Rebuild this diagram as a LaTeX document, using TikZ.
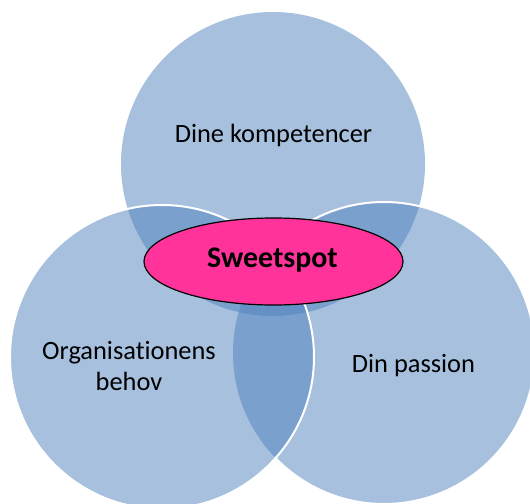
\documentclass[tikz,border=0pt]{standalone}
\usepackage{fontspec}
\setmainfont{Carlito}[Ligatures=NoCommon]
\usetikzlibrary{shapes.geometric}
\definecolor{accent}{RGB}{79,129,189}
\definecolor{sweet}{RGB}{255,51,153}
\tikzset{
  venn/.style={fill=accent, fill opacity=0.5, draw=none},
  rim/.style={draw=white, line width=2bp},
  lbl/.style={font=\fontsize{26.5}{31}\selectfont, text=black, align=center, inner sep=0pt},
}
\begin{document}
\begin{tikzpicture}[x=1bp,y=-1bp]
\useasboundingbox (0,0) rectangle (530,504);
\begin{scope}
\clip (0,0) rectangle (530,504);
\coordinate (ct) at (273,164);
\coordinate (cl) at (162,357);
\coordinate (cr) at (384,353);
% fills
\path[venn] (ct) circle[radius=152];
\path[venn] (cr) circle[radius=151];
\path[venn] (cl) circle[radius=152];
% white rims
\draw[rim] (cl) circle[radius=152];
\begin{scope}[even odd rule]
\clip (-10,-10) rectangle (540,514) (cl) circle[radius=151];
\draw[rim] (cr) circle[radius=151];
\end{scope}
\end{scope}
% sweet spot
\node[ellipse, draw=black, line width=1.2bp, fill=sweet, minimum width=259bp, minimum height=87bp, inner sep=0pt] (sweet) at (273.5,261.5) {};
\node[lbl, font=\fontsize{30}{33}\selectfont\bfseries, anchor=base] (sweettxt) at (272.5,267) {Sweetspot};
% labels
\node[lbl, anchor=base] (komp) at (273.5,143) {Dine kompetencer};
\node[lbl, anchor=base] (org) at (129,390) {Organisationens\\behov};
\node[lbl, anchor=base] (pass) at (413.5,372) {Din passion};
\end{tikzpicture}
\end{document}
